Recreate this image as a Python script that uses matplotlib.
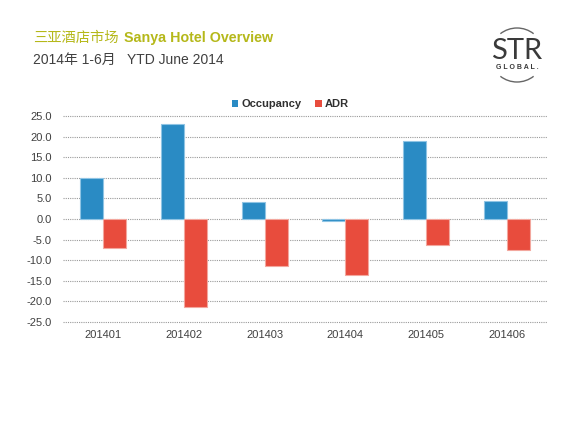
import numpy as np
import matplotlib.pyplot as plt
from matplotlib.patches import Arc

# data
months = ['201401', '201402', '201403', '201404', '201405', '201406']
occupancy = [10.0, 23.0, 4.2, -0.4, 19.0, 4.4]
adr = [-7.0, -21.3, -11.4, -13.6, -6.2, -7.5]
y_ticks = [25.0, 20.0, 15.0, 10.0, 5.0, 0.0, -5.0, -10.0, -15.0, -20.0, -25.0]

blue = '#2a8bc4'
red = '#e84c3d'
text_grey = '#404040'

fig = plt.figure(figsize=(5.76, 4.32), dpi=100)
fig.patch.set_facecolor('white')

# title block
fig.text(33 / 576, 1 - 38 / 432, '三亚酒店市场', family=['Noto Sans CJK SC'],
         fontsize=10.3, color='#b5b81a', va='center', ha='left')
fig.text(124 / 576, 1 - 38 / 432, 'Sanya Hotel Overview', family=['Liberation Sans'],
         fontsize=10.3, fontweight='bold', color='#b5b81a', va='center', ha='left')
fig.text(33 / 576, 1 - 60 / 432, '2014年 1-6月   YTD June 2014',
         family=['Liberation Sans', 'Noto Sans CJK SC'],
         fontsize=10, color=text_grey, va='center', ha='left')

# logo
lax = fig.add_axes([480 / 576, 1 - 90 / 432, 75 / 576, 70 / 432])
lax.set_xlim(480, 555)
lax.set_ylim(432 - 90, 432 - 20)
lax.axis('off')
lax.add_patch(Arc((517, 432 - 55), 54, 54, theta1=52, theta2=128, color='#666666', lw=1))
lax.add_patch(Arc((517, 432 - 55), 54, 54, theta1=232, theta2=308, color='#666666', lw=1))
lax.text(517, 432 - 59, 'STR', family=['Lato'], fontsize=21,
         color='#3a3a3a', ha='center', va='baseline')
lax.text(517, 432 - 69, 'G L O B A L .', family=['Liberation Sans'], fontweight='bold',
         fontsize=5, color='#3a3a3a', ha='center', va='baseline')

# chart
ax = fig.add_axes([63 / 576, 1 - 322 / 432, 484 / 576, 206 / 432])
x = np.arange(len(months))
width = 0.285
ax.bar(x - width / 2, occupancy, width, color=blue, edgecolor='#8fc4e4', linewidth=0.8,
       label='Occupancy', zorder=3)
ax.bar(x + width / 2, adr, width, color=red, edgecolor='#f3a79e', linewidth=0.8,
       label='ADR', zorder=3)

ax.set_xlim(-0.5, len(months) - 0.5)
ax.set_ylim(-25, 25)
ax.set_yticks(y_ticks)
ax.set_yticklabels(['{:.1f}'.format(v) for v in y_ticks])
ax.set_xticks(x)
ax.set_xticklabels(months)
ax.tick_params(axis='both', length=0, labelsize=8, labelcolor=text_grey,
               labelfontfamily='Liberation Sans')
ax.tick_params(axis='y', pad=8)
ax.tick_params(axis='x', pad=6)
for s in ax.spines.values():
    s.set_visible(False)
# dotted gridlines, drawn unclipped so the ones on the edges show
ax.hlines(y_ticks, -0.5, len(months) - 0.5, colors='#9a9a9a', linestyles=(0, (1, 1)),
          linewidth=0.8, zorder=0, clip_on=False)

leg = ax.legend(loc='lower center', bbox_to_anchor=(0.47, 1.0), ncol=2, frameon=False,
                handlelength=0.6, handleheight=0.6, handletextpad=0.3, columnspacing=1.2,
                prop={'family': 'Liberation Sans', 'weight': 'bold', 'size': 8},
                borderaxespad=0.2)
for t in leg.get_texts():
    t.set_color('#303030')
for h in leg.legend_handles:
    h.set_linewidth(0)

fig.savefig('out.png', dpi=100, facecolor='white')
